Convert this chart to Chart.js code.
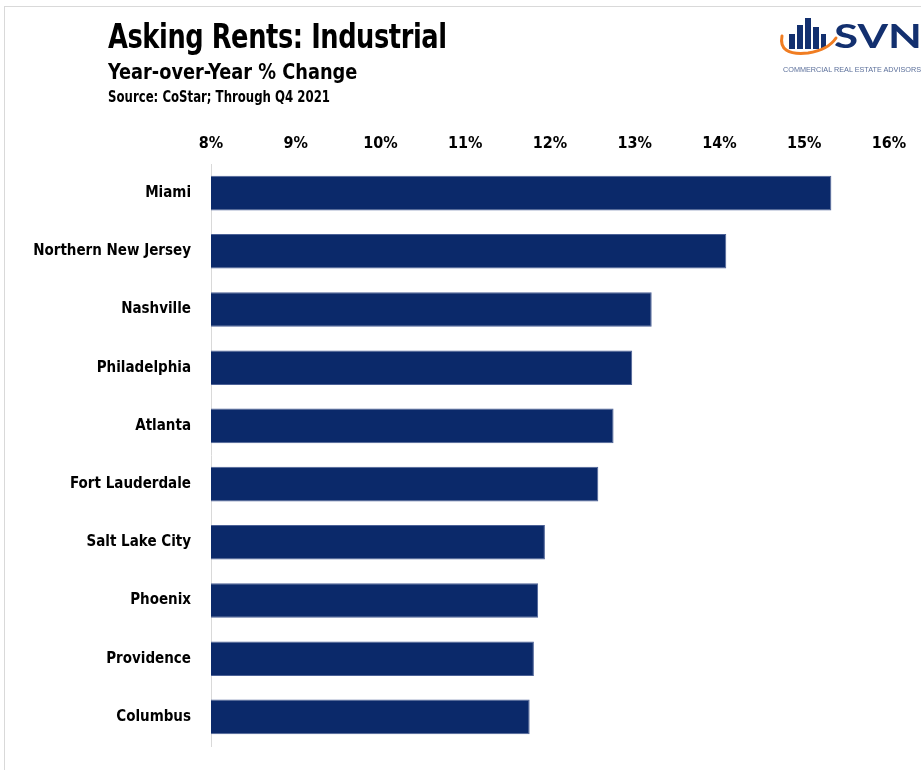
<!DOCTYPE html>
<html>
<head>
<meta charset="utf-8">
<script src="https://cdn.jsdelivr.net/npm/chart.js@4.4.1/dist/chart.umd.min.js"></script>
<style>
  html, body { margin: 0; padding: 0; background: #fff; }
  body { width: 921px; height: 770px; position: relative; overflow: hidden;
         font-family: "Liberation Sans Narrow", "DejaVu Sans Condensed", "Roboto Condensed", sans-serif; }
  .frame { position: absolute; left: 4px; top: 6px; width: 930px; height: 780px;
           border: 1px solid #d9d9d9; box-sizing: border-box; }
  #rentsChart { position: absolute; left: 0; top: 0; }
  .title { position: absolute; left: 108px; top: 16px; font-size: 34px; font-weight: bold;
           color: #000; letter-spacing: -0.5px; transform: scaleX(0.84); transform-origin: left; }
  .sub { position: absolute; left: 108px; top: 60px; font-size: 21px; font-weight: bold; color: #000;
         transform: scaleX(0.94); transform-origin: left; }
  .src { position: absolute; left: 108px; top: 88px; font-size: 15px; font-weight: bold; color: #000;
         transform: scaleX(0.87); transform-origin: left; }
  .logo { position: absolute; left: 770px; top: 12px; }
</style>
</head>
<body>
<div class="frame"></div>
<canvas id="rentsChart" width="921" height="770"></canvas>
<div class="title">Asking Rents: Industrial</div>
<div class="sub">Year-over-Year % Change</div>
<div class="src">Source: CoStar; Through Q4 2021</div>
<svg class="logo" width="151" height="66" viewBox="0 0 151 66">
  <!-- building bars -->
  <rect x="19" y="22" width="6" height="15" fill="#13306f"/>
  <rect x="27" y="13" width="6" height="24" fill="#13306f"/>
  <rect x="35" y="6" width="6" height="31" fill="#13306f"/>
  <rect x="43" y="15" width="6" height="22" fill="#13306f"/>
  <rect x="51" y="22" width="5" height="15" fill="#13306f"/>
  <!-- swoosh -->
  <path d="M12 24 Q8 44 38 41 Q58 38 66 26" fill="none" stroke="#f07d22" stroke-width="3" stroke-linecap="round"/>
  <text x="64" y="36" font-family="Lato, 'Open Sans', sans-serif" font-weight="bold" font-size="33" fill="#13306f" textLength="88" lengthAdjust="spacingAndGlyphs">SVN</text>
  <text x="13" y="60" font-family="'Liberation Sans Narrow', sans-serif" font-size="6.5" fill="#5b6f9a" textLength="138" lengthAdjust="spacingAndGlyphs">COMMERCIAL REAL ESTATE ADVISORS</text>
</svg>
<script>
// Year-over-year change in industrial asking rents, by metro
const metros = ['Miami', 'Northern New Jersey', 'Nashville', 'Philadelphia', 'Atlanta',
  'Fort Lauderdale', 'Salt Lake City', 'Phoenix', 'Providence', 'Columbus'];
const rentGrowth = [15.32, 14.08, 13.2, 12.97, 12.75, 12.57, 11.94, 11.86, 11.81, 11.76];
const axisMin = 8;
const axisMax = 16;

const labelFont = { family: "'Liberation Sans Narrow', 'DejaVu Sans Condensed', sans-serif", size: 16, weight: 'bold' };

new Chart(document.getElementById('rentsChart'), {
  type: 'bar',
  data: {
    labels: metros,
    datasets: [{
      data: rentGrowth,
      base: axisMin,
      backgroundColor: '#0b296a',
      borderColor: '#4c6196',
      borderWidth: 1,
      borderSkipped: 'start',
      categoryPercentage: 1,
      barPercentage: 0.595
    }]
  },
  options: {
    indexAxis: 'y',
    responsive: false,
    animation: false,
    layout: { padding: { top: 120, right: 32, bottom: 24, left: 0 } },
    plugins: { legend: { display: false }, tooltip: { enabled: false } },
    scales: {
      x: {
        position: 'top',
        min: axisMin,
        max: axisMax,
        grid: { display: false },
        border: { display: false },
        ticks: {
          stepSize: 1,
          color: '#000',
          font: labelFont,
          padding: 3,
          callback: v => v + '%'
        },
        afterFit: scale => { scale.height = 44; }
      },
      y: {
        grid: { display: false },
        border: { display: true, color: '#d9d9d9', width: 1 },
        ticks: { color: '#000', font: { ...labelFont, size: 15 }, padding: 12 },
        afterFit: scale => { scale.width = 211; }
      }
    }
  }
});
</script>
</body>
</html>
